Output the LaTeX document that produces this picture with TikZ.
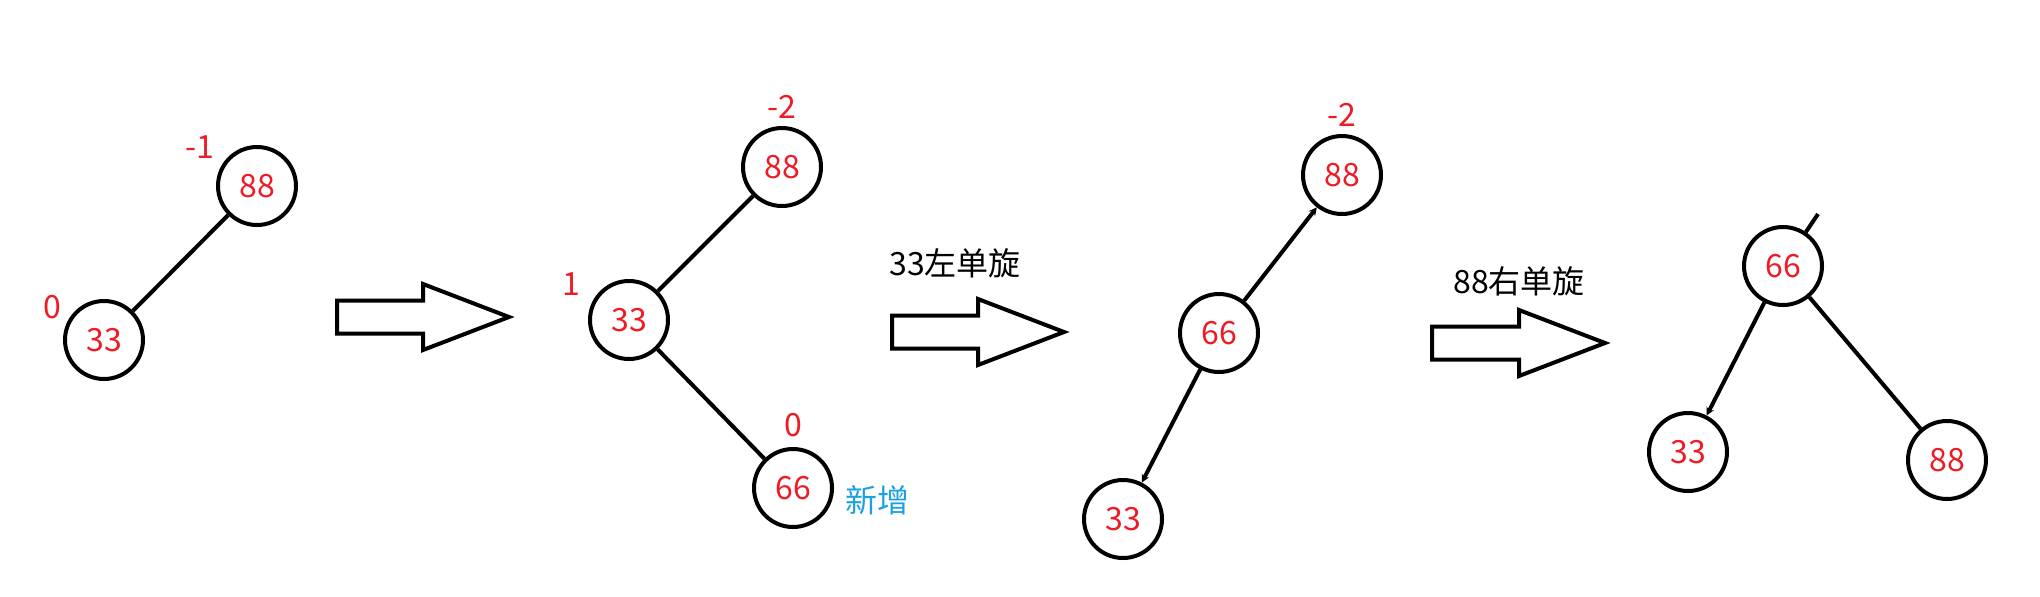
\documentclass[tikz,border=0pt]{standalone}
\usepackage{fontspec}
\setmainfont{Noto Sans CJK SC}
\usepackage{tikz}
\usetikzlibrary{positioning}
\usetikzlibrary{arrows.meta}
\definecolor{myred}{HTML}{ED1C24}
\definecolor{myblue}{HTML}{1BA1E2}
\newlength\gap
\setlength{\gap}{0.5pt}

\begin{document}
\begin{tikzpicture}[
    x=\gap, y=-\gap,
    line width=2pt,
    font=\fontsize{16}{19}\selectfont,
    keynode/.style={
      circle,
      draw=black,
      minimum size=39pt,
      inner sep=0pt,
      text=myred
    },
    bfnode/.style={inner sep=0pt, text=myred},
    tip/.style={-{Stealth[length=4pt, width=4pt]}}
]
  \useasboundingbox (0,0) rectangle (2040,596);

  % before insertion
  \node[keynode] (a88) at (257,186) {88};
  \node[keynode] (a33) at (104,340) {33};
  \node[bfnode] (a88bf) [above left=-1.5pt and 6pt of a88.north west] {-1};
  \node[bfnode] (a33bf) [above left=-5pt and 6pt of a33.north west] {0};
  \draw (a88) -- (a33);

  % after inserting 66
  \node[keynode] (b88) at (782,167) {88};
  \node[keynode] (b33) at (629,320) {33};
  \node[keynode] (b66) at (793,488) {66};
  \node[bfnode] (b88bf) [above=3pt of b88] {-2};
  \node[bfnode] (b33bf) [above left=-3pt and 9pt of b33.north west] {1};
  \node[bfnode] (b66bf) [above=4pt of b66] {0};
  \node[inner sep=0pt, text=myblue] (b66new) [right=4.5pt of b66, yshift=-6pt] {新增};
  \draw (b33) -- (b88);
  \draw (b33) -- (b66);

  % left rotation at 33
  \node[keynode] (c88) at (1342,175) {88};
  \node[keynode] (c66) at (1219,333) {66};
  \node[keynode] (c33) at (1123,519) {33};
  \node[bfnode] (c88bf) [above=3pt of c88] {-2};
  \draw[tip] (c66) -- (c88);
  \draw[tip] (c66) -- (c33);

  % right rotation at 88
  \node[keynode] (d66) at (1783,266) {66};
  \node[keynode] (d33) at (1688,452) {33};
  \node[keynode] (d88) at (1947,460) {88};
  \coordinate (dtop) at (1818,214);
  \draw (d66) -- (dtop);
  \draw[tip] (d66) -- (d33);
  \draw (d66) -- (d88);

  % block arrows between the steps
  \foreach \x/\y/\s/\h in {337/317/86/86, 892/332/86/86, 1432/343/87/86}
    \draw (\x,\y-16.5) -- ++(\s,0) -- ++(0,-16.5) -- (\x+\s+\h,\y)
      -- (\x+\s,\y+33) -- ++(0,-16.5) -- (\x,\y+16.5) -- cycle;

  \node[inner sep=0pt] (leftrot) at (955,263) {33左单旋};
  \node[inner sep=0pt] (rightrot) at (1519,281) {88右单旋};

\end{tikzpicture}
\end{document}
